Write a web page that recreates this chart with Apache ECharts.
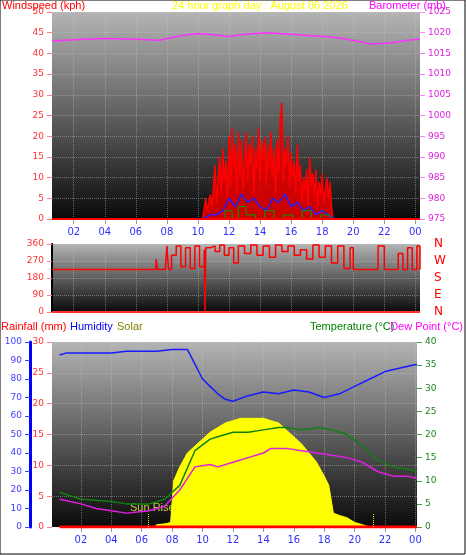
<!DOCTYPE html>
<html><head><meta charset="utf-8">
<script src="https://cdn.jsdelivr.net/npm/echarts@6/dist/echarts.min.js"></script>
<style>html,body{margin:0;padding:0;background:#fff}#c{width:466px;height:555px}</style>
</head><body><div id="c"></div>
<script>
// ---- data (hour of day, value) ----
const hourTicks = [2,4,6,8,10,12,14,16,18,20,22,24];
const baroT = [0.6,2,4,6,7.5,9,10,11,12,13,14.5,16,17,18.5,19.5,20.5,21,21.8,22.5,23.5,24.3];
const baroV = [1018,1018.3,1018.6,1018.4,1018.2,1019.3,1019.8,1019.5,1019.1,1019.6,1020,1019.6,1019.3,1019,1018.5,1017.8,1017.3,1017.4,1017.6,1018.2,1018.4];
const gustT = [10.3,10.5,10.6,10.8,10.9,11,11.1,11.2,11.3,11.4,11.5,11.6,11.7,11.8,11.9,12,12.1,12.2,12.3,12.4,12.5,12.6,12.7,12.8,12.9,13,13.1,13.2,13.3,13.4,13.5,13.6,13.7,13.8,13.9,14,14.1,14.2,14.3,14.4,14.5,14.6,14.7,14.8,14.9,15,15.1,15.2,15.3,15.4,15.5,15.6,15.7,15.8,15.9,16,16.1,16.2,16.3,16.4,16.5,16.6,16.7,16.8,16.9,17,17.1,17.2,17.3,17.4,17.5,17.6,17.7,17.8,17.9,18,18.1,18.2,18.3,18.4,18.5,18.6,18.7];
const gustV = [0,5,2,6,3,8,13,4,10,15,6,17,9,14,5,20,8,22,12,18,6,21,10,19,7,14,21,9,18,13,20,6,17,12,22,9,19,14,20,8,18,12,21,10,17,6,19,11,24,28,9,17,13,20,8,16,10,14,6,18,9,13,4,10,7,12,3,15,8,11,5,12,3,9,6,11,4,7,10,5,9,3,0];
const avgT = [10.3,10.8,11.2,11.6,12,12.4,12.8,13.2,13.6,14,14.4,14.8,15.2,15.6,16,16.4,16.8,17.2,17.6,18,18.4,18.8];
const avgV = [0,1,1,2,5,3,6,4,5,3,2,5,4,6,3,4,2,3,1,2,1,0];
const lowT = [10.3,11.5,12,12.4,12.8,13.4,14,14.6,15.2,15.8,16.4,17,17.6,18.2,18.8];
const lowV = [0,0,2,0,3,1,0,2,0,1,0,2,0,1,0];
const dirT = [0.6,7,7.3,7.4,7.9,8,8.1,8.3,8.6,8.9,9.2,9.5,9.8,10.1,10.4,10.45,10.5,10.8,11.1,11.4,11.7,12,12.3,12.6,13,13.4,13.8,14.2,14.6,15,15.4,15.8,16.2,16.6,17,17.4,17.8,18.2,18.6,19,19.4,19.8,20,20.4,21,21.4,21.6,22,22.6,22.9,23.2,23.5,23.8,24.1,24.3];
const dirV = [225,225,280,225,225,350,225,300,350,240,340,230,350,240,330,0,340,350,320,355,300,340,260,350,310,355,300,350,290,355,320,350,300,330,280,355,290,350,260,350,230,340,225,225,225,225,350,225,225,310,225,340,225,350,225];
const humT = [0.6,1,2,3,4,5,6,7,8,9,9.5,10,10.5,11,11.5,12,13,14,15,16,17,18,19,20,21,22,23,24.1];
const humV = [93,94,94,94,94,95,95,95,96,96,88,80,76,72,69,68,71,73,72,74,73,70,72,76,80,84,86,88];
const tempT = [0.6,2,4,5,6.5,7.5,8.5,9.5,10.5,11,12,13,14,15,15.5,16.5,17.7,18.5,19.5,20.5,21.5,22.5,23.5,24.1];
const tempV = [7.5,6,5.5,5,5,6,9,16.5,19,19.5,20.5,20.5,21,21.5,21.5,21,21.5,21,20,17.5,14.5,13,12.5,12];
const dewT = [0.6,2,3,4,5,6.5,7.5,8.5,9.5,10.5,11,12,13,14,14.5,15.5,16.5,17.5,18.5,19.5,20.5,21.5,22.5,23.5,24.1];
const dewV = [6,5,4,3.5,3,3.5,4.5,8,13,13.5,13,14,15,16,17,17,16.5,16,15.5,15,14,12,11,11,10.5];
const solT = [0.6,6.8,7,7.6,7.9,8.1,8.5,9,9.5,10,10.5,11,11.5,12,12.5,13,13.5,14,14.5,15,15.5,16,16.5,17,17.5,18,18.3,18.5,18.6,19,19.5,20,20.5,21,24.1];
const solV = [0,0,0.5,0.7,1,10,13,16,17.5,19,20.5,21.5,22.5,23,23.5,23.5,23.5,23.5,23,22.5,21,19.5,18,16,14,11,9,5,3,2.5,2,1,0.5,0,0];
const rainT = [0.6,24.1];
const rainV = [0,0];
const compass = {0:'N',90:'E',180:'S',270:'W',360:'N'};

const z = (a,b)=>a.map((t,i)=>[t,b[i]]);
const bg = {type:'linear',x:0,y:0,x2:0,y2:1,colorStops:[{offset:0,color:'#b4b4b4'},{offset:1,color:'#0a0a0a'}]};
const split = {show:true,lineStyle:{color:'rgba(200,200,200,0.45)',type:'dotted'}};
function xa(gi, showLabel, mn, mx){
  return {type:'value',gridIndex:gi,min:mn,max:mx,
    axisLine:{show:false},splitLine:{show:true,lineStyle:{color:'rgba(200,200,200,0.45)',type:'dotted'},customValues:hourTicks},
    axisTick:{show:showLabel,customValues:hourTicks,lineStyle:{color:'#999'}},
    axisLabel:{show:showLabel,customValues:hourTicks,color:'#3030ff',fontSize:10,fontFamily:'DejaVu Sans',
      formatter:v=>{const h=Math.round(v)%24;return (h<10?'0':'')+h;}}};
}
const lab = c=>({color:c,fontSize:9,fontFamily:'DejaVu Sans'});
const F = '11px Liberation Sans';
const opt = {
  animation:false,
  grid:[
    {left:52,right:46,top:12,height:207,show:true,backgroundColor:bg,borderWidth:0},
    {left:52,right:46,top:244,height:68,show:true,backgroundColor:bg,borderWidth:0},
    {left:52,right:49,top:342,height:185,show:true,backgroundColor:bg,borderWidth:0}
  ],
  xAxis:[xa(0,true,0.6,24.3),xa(1,false,0.6,24.3),xa(2,true,0.1,24.1)],
  yAxis:[
    {gridIndex:0,min:0,max:50,interval:5,axisLine:{show:false},axisTick:{show:true,lineStyle:{color:'#ff8080'}},axisLabel:lab('#ff3030'),splitLine:split},
    {gridIndex:0,position:'right',min:975,max:1025,interval:5,axisLine:{show:false},axisTick:{show:true,lineStyle:{color:'#ff80ff'}},axisLabel:Object.assign(lab('#e020e0'),{formatter:v=>String(v)}),splitLine:{show:false}},
    {gridIndex:1,min:0,max:360,interval:90,axisLine:{show:true,lineStyle:{color:'#000',width:2}},axisTick:{show:true,lineStyle:{color:'#ff8080'}},axisLabel:lab('#ff3030'),splitLine:split},
    {gridIndex:1,position:'right',min:0,max:360,interval:90,axisLine:{show:false},axisTick:{show:false},axisLabel:{color:'#ff0000',fontSize:12,margin:14,fontFamily:'DejaVu Sans',formatter:v=>compass[v]},splitLine:{show:false}},
    {gridIndex:2,min:0,max:30,interval:5,axisLine:{show:false},axisTick:{show:true,lineStyle:{color:'#ff8080'}},axisLabel:lab('#ff3030'),splitLine:split},
    {gridIndex:2,position:'left',offset:22,min:0,max:100,interval:10,axisLine:{show:true,lineStyle:{color:'#0000ff',width:3}},axisTick:{show:true,lineStyle:{color:'#4040ff'}},axisLabel:lab('#4040ff'),splitLine:{show:false}},
    {gridIndex:2,position:'right',min:0,max:40,interval:5,axisLine:{show:false},axisTick:{show:true,lineStyle:{color:'#40a040'}},axisLabel:lab('#208020'),splitLine:{show:false}}
  ],
  series:[
    {type:'line',xAxisIndex:0,yAxisIndex:1,data:z(baroT,baroV),symbol:'none',lineStyle:{color:'#ff30ff',width:1.5}},
    {type:'line',xAxisIndex:0,yAxisIndex:0,data:z(gustT,gustV),symbol:'none',lineStyle:{color:'#ff0000',width:1.5},areaStyle:{color:'#e00000',opacity:0.9}},
    {type:'line',xAxisIndex:0,yAxisIndex:0,data:z(avgT,avgV),symbol:'none',lineStyle:{color:'#2020ff',width:1.5}},
    {type:'line',xAxisIndex:0,yAxisIndex:0,data:z(lowT,lowV),symbol:'none',step:'middle',lineStyle:{color:'#00a000',width:1}},
    {type:'line',xAxisIndex:0,yAxisIndex:0,data:[[0.6,0],[24.3,0]],symbol:'none',lineStyle:{color:'#ff0000',width:2}},
    {type:'line',xAxisIndex:1,yAxisIndex:2,data:z(dirT,dirV),symbol:'none',step:'end',lineStyle:{color:'#ff0000',width:1.5}},
    {type:'line',xAxisIndex:1,yAxisIndex:2,data:[[0.6,0],[24.3,0]],symbol:'none',lineStyle:{color:'#ff3030',width:2}},
    {type:'line',xAxisIndex:2,yAxisIndex:6,data:z(solT,solV),symbol:'none',lineStyle:{color:'#ffff00',width:1},areaStyle:{color:'#ffff00',opacity:1},
      markLine:{symbol:'none',silent:true,label:{show:false},lineStyle:{color:'#e0e000',type:'dotted',width:1},data:[[{coord:[6.4,0]},{coord:[6.4,3]}],[{coord:[21.2,0]},{coord:[21.2,3]}]]}},
    {type:'line',xAxisIndex:2,yAxisIndex:5,data:z(humT,humV),symbol:'none',lineStyle:{color:'#1a1aff',width:1.5}},
    {type:'line',xAxisIndex:2,yAxisIndex:6,data:z(tempT,tempV),symbol:'none',lineStyle:{color:'#108010',width:1.5}},
    {type:'line',xAxisIndex:2,yAxisIndex:6,data:z(dewT,dewV),symbol:'none',lineStyle:{color:'#e020e0',width:1.5}},
    {type:'line',xAxisIndex:2,yAxisIndex:4,data:z(rainT,rainV),symbol:'none',lineStyle:{color:'#ff0000',width:3}}
  ],
  graphic:[
    {type:'text',left:2,top:0,style:{text:'Windspeed (kph)',fill:'#ff0000',font:F}},
    {type:'text',left:172,top:0,style:{text:'24 hour graph day : August 06 2026',fill:'#ffff00',font:F}},
    {type:'text',right:20,top:0,style:{text:'Barometer (mb)',fill:'#ff00ff',font:F}},
    {type:'text',left:1,top:321,style:{text:'Rainfall (mm)',fill:'#ff0000',font:F}},
    {type:'text',left:70,top:321,style:{text:'Humidity',fill:'#0000ff',font:F}},
    {type:'text',left:117,top:321,style:{text:'Solar',fill:'#808000',font:F}},
    {type:'text',left:310,top:321,style:{text:'Temperature (°C)',fill:'#008000',font:F}},
    {type:'text',right:3,top:321,style:{text:'Dew Point (°C)',fill:'#ff00ff',font:F}},
    {type:'text',left:130,top:502,style:{text:'Sun Rise',fill:'#c8c840',font:F}},
    {type:'rect',shape:{x:0,y:0,width:465,height:554},style:{fill:'none',stroke:'#000',lineWidth:1}}
  ]
};
echarts.init(document.getElementById('c')).setOption(opt);
</script></body></html>
